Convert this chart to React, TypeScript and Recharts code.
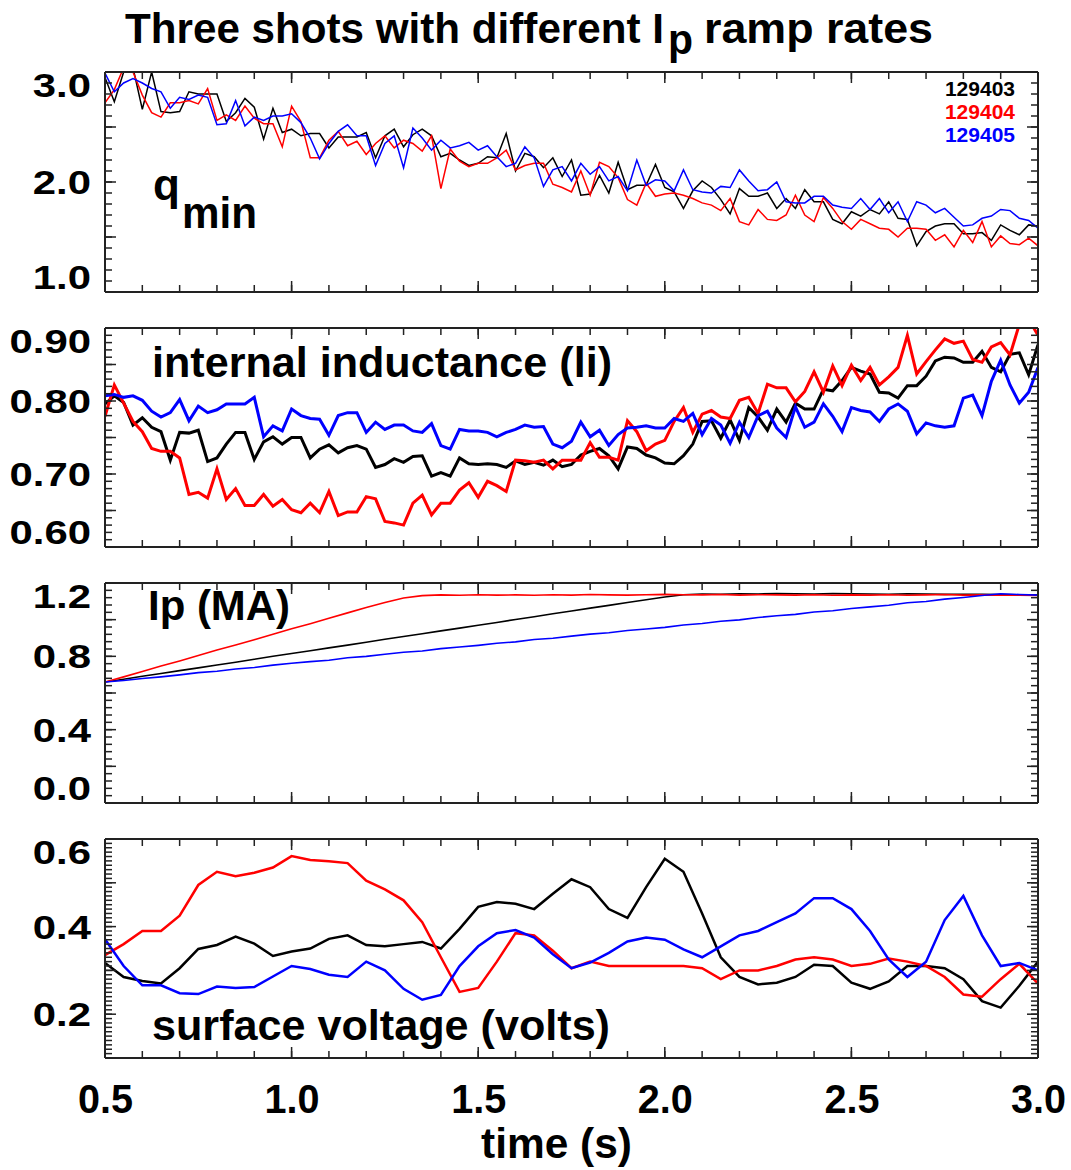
import React from 'react';
import { LineChart, Line, XAxis, YAxis } from 'recharts';

// time grids (s)
const TIME_FINE = [
  0.5, 0.525, 0.55, 0.575, 0.6, 0.625, 0.65, 0.675, 0.7, 0.725,
  0.75, 0.775, 0.8, 0.825, 0.85, 0.875, 0.9, 0.925, 0.95, 0.975,
  1.0, 1.025, 1.05, 1.075, 1.1, 1.125, 1.15, 1.175, 1.2, 1.225,
  1.25, 1.275, 1.3, 1.325, 1.35, 1.375, 1.4, 1.425, 1.45, 1.475,
  1.5, 1.525, 1.55, 1.575, 1.6, 1.625, 1.65, 1.675, 1.7, 1.725,
  1.75, 1.775, 1.8, 1.825, 1.85, 1.875, 1.9, 1.925, 1.95, 1.975,
  2.0, 2.025, 2.05, 2.075, 2.1, 2.125, 2.15, 2.175, 2.2, 2.225,
  2.25, 2.275, 2.3, 2.325, 2.35, 2.375, 2.4, 2.425, 2.45, 2.475,
  2.5, 2.525, 2.55, 2.575, 2.6, 2.625, 2.65, 2.675, 2.7, 2.725,
  2.75, 2.775, 2.8, 2.825, 2.85, 2.875, 2.9, 2.925, 2.95, 2.975,
  3.0,
];
const TIME_COARSE = [
  0.5, 0.55, 0.6, 0.65, 0.7, 0.75, 0.8, 0.85, 0.9, 0.95,
  1.0, 1.05, 1.1, 1.15, 1.2, 1.25, 1.3, 1.35, 1.4, 1.45,
  1.5, 1.55, 1.6, 1.65, 1.7, 1.75, 1.8, 1.85, 1.9, 1.95,
  2.0, 2.05, 2.1, 2.15, 2.2, 2.25, 2.3, 2.35, 2.4, 2.45,
  2.5, 2.55, 2.6, 2.65, 2.7, 2.75, 2.8, 2.85, 2.9, 2.95,
  3.0,
];

const SHOTS = ['129403', '129404', '129405'];
const COLORS = ['#000000', '#ff0000', '#0000ff'];

// q_min
const Q_BLACK = [
  2.95, 2.73, 3.0, 3.04, 2.66, 3.0, 2.64, 2.63, 2.64, 2.82,
  2.8, 2.8, 2.8, 2.55, 2.63, 2.76, 2.68, 2.39, 2.67, 2.45,
  2.48, 2.42, 2.44, 2.44, 2.31, 2.41, 2.41, 2.41, 2.45, 2.22,
  2.42, 2.48, 2.32, 2.43, 2.48, 2.42, 2.23, 2.26, 2.2, 2.15,
  2.17, 2.23, 2.22, 2.44, 2.1, 2.26, 2.23, 2.13, 2.22, 2.05,
  2.2, 1.88, 1.89, 2.06, 1.9, 2.18, 1.93, 1.97, 1.97, 2.16,
  1.95, 1.91, 1.76, 1.92, 2.01, 1.95, 1.84, 1.71, 1.94, 1.87,
  1.87, 1.9, 1.76, 1.85, 1.76, 1.93, 1.82, 1.82, 1.66, 1.62,
  1.73, 1.69, 1.75, 1.71, 1.82, 1.67, 1.66, 1.42, 1.55, 1.6,
  1.62, 1.62, 1.53, 1.53, 1.54, 1.47, 1.61, 1.56, 1.52, 1.61,
  1.6,
];
const Q_RED = [
  2.72, 2.84, 3.04, 3.0, 2.79, 2.63, 2.59, 2.72, 2.72, 2.74,
  2.71, 2.85, 2.56, 2.61, 2.56, 2.69, 2.58, 2.53, 2.53, 2.32,
  2.69, 2.55, 2.22, 2.22, 2.38, 2.46, 2.33, 2.37, 2.25, 2.35,
  2.42, 2.31, 2.38, 2.35, 2.28, 2.42, 1.94, 2.3, 2.19, 2.14,
  2.17, 2.17, 2.22, 2.29, 2.11, 2.15, 2.17, 2.17, 1.98, 1.95,
  1.91, 2.1, 1.88, 2.18, 2.14, 2.04, 1.84, 1.79, 1.99, 1.87,
  1.89, 1.9, 1.88, 1.85, 1.81, 1.79, 1.74, 1.85, 1.64, 1.61,
  1.75, 1.66, 1.65, 1.7, 1.88, 1.7, 1.64, 1.86, 1.76, 1.64,
  1.57, 1.66, 1.62, 1.58, 1.57, 1.5, 1.58, 1.58, 1.57, 1.47,
  1.52, 1.41, 1.56, 1.45, 1.64, 1.41, 1.51, 1.44, 1.43, 1.49,
  1.42,
];
const Q_BLUE = [
  2.99, 2.82, 2.9, 2.94, 2.9, 2.85, 2.82, 2.67, 2.77, 2.75,
  2.79, 2.77, 2.52, 2.53, 2.74, 2.51, 2.59, 2.56, 2.6, 2.6,
  2.62, 2.54, 2.4, 2.21, 2.35, 2.46, 2.52, 2.42, 2.42, 2.15,
  2.35, 2.42, 2.13, 2.49, 2.4, 2.29, 2.38, 2.31, 2.33, 2.36,
  2.29, 2.33, 2.23, 2.14, 2.17, 2.32, 2.22, 1.96, 2.11, 2.14,
  2.01, 2.17, 2.07, 2.14, 2.01, 2.05, 1.92, 2.2, 1.97, 2.02,
  2.01, 1.92, 2.11, 1.93, 1.91, 1.9, 1.96, 1.95, 2.11, 2.01,
  1.92, 1.93, 2.0, 1.82, 1.81, 1.81, 1.87, 1.87, 1.79, 1.77,
  1.76, 1.85, 1.75, 1.85, 1.72, 1.82, 1.64, 1.82, 1.79, 1.72,
  1.76, 1.68, 1.6, 1.61, 1.67, 1.69, 1.75, 1.74, 1.67, 1.65,
  1.58,
];

// internal inductance li
const LI_BLACK = [
  0.796, 0.807, 0.798, 0.767, 0.777, 0.764, 0.758, 0.719, 0.757, 0.756,
  0.76, 0.717, 0.722, 0.741, 0.757, 0.757, 0.72, 0.744, 0.751, 0.741,
  0.75, 0.75, 0.722, 0.734, 0.74, 0.729, 0.736, 0.739, 0.734, 0.709,
  0.713, 0.721, 0.716, 0.724, 0.725, 0.697, 0.702, 0.697, 0.722, 0.714,
  0.713, 0.714, 0.713, 0.709, 0.718, 0.713, 0.716, 0.712, 0.719, 0.71,
  0.713, 0.726, 0.731, 0.735, 0.725, 0.707, 0.737, 0.735, 0.726, 0.722,
  0.715, 0.714, 0.725, 0.741, 0.772, 0.773, 0.749, 0.774, 0.746, 0.791,
  0.778, 0.76, 0.789, 0.771, 0.797, 0.789, 0.789, 0.816, 0.814, 0.828,
  0.846, 0.841, 0.837, 0.812, 0.811, 0.804, 0.821, 0.821, 0.834, 0.855,
  0.86, 0.859, 0.853, 0.853, 0.868, 0.846, 0.84, 0.864, 0.866, 0.836,
  0.877,
];
const LI_RED = [
  0.779, 0.822, 0.797, 0.772, 0.758, 0.735, 0.731, 0.731, 0.722, 0.672,
  0.675, 0.667, 0.707, 0.665, 0.68, 0.657, 0.657, 0.672, 0.656, 0.665,
  0.651, 0.647, 0.66, 0.647, 0.676, 0.643, 0.648, 0.648, 0.669, 0.666,
  0.635, 0.633, 0.63, 0.66, 0.671, 0.644, 0.66, 0.66, 0.678, 0.688,
  0.668, 0.69, 0.684, 0.676, 0.719, 0.718, 0.716, 0.719, 0.707, 0.719,
  0.719, 0.719, 0.743, 0.723, 0.723, 0.719, 0.773, 0.758, 0.732, 0.741,
  0.746, 0.772, 0.791, 0.757, 0.782, 0.787, 0.778, 0.776, 0.801, 0.805,
  0.783, 0.823, 0.818, 0.818, 0.799, 0.813, 0.84, 0.812, 0.848, 0.821,
  0.849, 0.828, 0.846, 0.822, 0.833, 0.846, 0.89, 0.837, 0.854, 0.87,
  0.885, 0.879, 0.882, 0.857, 0.853, 0.874, 0.88, 0.863, 0.905, 0.912,
  0.89,
];
const LI_BLUE = [
  0.807, 0.809, 0.805, 0.807, 0.801, 0.786, 0.778, 0.784, 0.802, 0.773,
  0.793, 0.784, 0.788, 0.796, 0.796, 0.796, 0.805, 0.751, 0.766, 0.759,
  0.789, 0.78, 0.776, 0.775, 0.753, 0.78, 0.784, 0.784, 0.757, 0.771,
  0.761, 0.767, 0.767, 0.759, 0.757, 0.769, 0.739, 0.734, 0.761, 0.759,
  0.759, 0.757, 0.751, 0.757, 0.761, 0.767, 0.764, 0.765, 0.741, 0.736,
  0.745, 0.771, 0.751, 0.76, 0.739, 0.754, 0.763, 0.764, 0.766, 0.763,
  0.763, 0.776, 0.772, 0.783, 0.754, 0.776, 0.767, 0.742, 0.771, 0.75,
  0.78, 0.786, 0.763, 0.75, 0.792, 0.764, 0.771, 0.796, 0.779, 0.758,
  0.791, 0.787, 0.785, 0.772, 0.789, 0.796, 0.786, 0.755, 0.77, 0.766,
  0.764, 0.766, 0.804, 0.808, 0.78, 0.827, 0.856, 0.822, 0.797, 0.812,
  0.846,
];

// plasma current Ip (MA)
const IP_BLACK = [
  0.66, 0.675, 0.691, 0.706, 0.722, 0.737, 0.753, 0.768, 0.784, 0.8,
  0.815, 0.83, 0.846, 0.861, 0.877, 0.893, 0.908, 0.923, 0.939, 0.954,
  0.97, 0.985, 1.001, 1.016, 1.032, 1.047, 1.063, 1.078, 1.094, 1.109,
  1.124, 1.136, 1.14, 1.139, 1.141, 1.14, 1.142, 1.141, 1.14, 1.142,
  1.141, 1.14, 1.139, 1.141, 1.14, 1.138, 1.139, 1.138, 1.137, 1.136,
  1.136,
];
const IP_RED = [
  0.66, 0.688, 0.717, 0.747, 0.775, 0.804, 0.834, 0.862, 0.891, 0.921,
  0.95, 0.978, 1.008, 1.037, 1.066, 1.094, 1.118, 1.131, 1.135, 1.133,
  1.136, 1.134, 1.135, 1.133, 1.136, 1.134, 1.137, 1.135, 1.134, 1.136,
  1.138, 1.136, 1.135, 1.137, 1.134, 1.136, 1.135, 1.134, 1.136, 1.133,
  1.135, 1.134, 1.136, 1.133, 1.135, 1.137, 1.134, 1.135, 1.133, 1.134,
  1.132,
];
const IP_BLUE = [
  0.66, 0.668, 0.679, 0.688, 0.699, 0.711, 0.719, 0.731, 0.739, 0.752,
  0.762, 0.771, 0.779, 0.792, 0.8, 0.811, 0.822, 0.829, 0.842, 0.851,
  0.86, 0.871, 0.879, 0.892, 0.899, 0.91, 0.921, 0.929, 0.941, 0.949,
  0.958, 0.971, 0.979, 0.991, 0.999, 1.012, 1.021, 1.029, 1.042, 1.049,
  1.061, 1.07, 1.079, 1.092, 1.099, 1.112, 1.121, 1.132, 1.141, 1.137,
  1.134,
];

// surface voltage (V)
const V_BLACK = [
  0.317, 0.285, 0.276, 0.27, 0.305, 0.349, 0.358, 0.377, 0.361, 0.333,
  0.343, 0.35, 0.372, 0.38, 0.358, 0.355, 0.36, 0.365, 0.35, 0.395,
  0.445, 0.456, 0.452, 0.44, 0.475, 0.508, 0.49, 0.44, 0.42, 0.49,
  0.555, 0.525, 0.43, 0.33, 0.285, 0.268, 0.272, 0.285, 0.313, 0.31,
  0.272, 0.258, 0.275, 0.31, 0.31, 0.305, 0.28, 0.23, 0.215, 0.265,
  0.32,
];
const V_RED = [
  0.335, 0.36, 0.39, 0.39, 0.425, 0.495, 0.525, 0.515, 0.523, 0.535,
  0.561, 0.552, 0.549, 0.545, 0.505, 0.485, 0.46, 0.41, 0.33, 0.251,
  0.26, 0.32, 0.385, 0.38, 0.345, 0.305, 0.32, 0.31, 0.31, 0.31,
  0.31, 0.31, 0.305, 0.28, 0.3, 0.3, 0.31, 0.325, 0.33, 0.325,
  0.31, 0.315, 0.327, 0.32, 0.31, 0.285, 0.245, 0.24, 0.28, 0.315,
  0.27,
];
const V_BLUE = [
  0.371, 0.31, 0.266, 0.266, 0.248, 0.246, 0.263, 0.26, 0.262, 0.286,
  0.31, 0.303, 0.29, 0.285, 0.32, 0.3, 0.258, 0.233, 0.244, 0.31,
  0.355, 0.385, 0.392, 0.375, 0.337, 0.305, 0.318, 0.34, 0.366, 0.375,
  0.37, 0.348, 0.33, 0.355, 0.38, 0.39, 0.41, 0.43, 0.465, 0.465,
  0.44, 0.39, 0.325, 0.285, 0.32, 0.415, 0.47, 0.38, 0.31, 0.317,
  0.3,
];

// axes
const X_DOMAIN: [number, number] = [0.5, 3.0];
const X_LABELS = [0.5, 1.0, 1.5, 2.0, 2.5, 3.0];
const X_MINOR = [
  0.5, 0.6, 0.7, 0.8, 0.9, 1.0, 1.1, 1.2, 1.3, 1.4, 1.5, 1.6, 1.7,
  1.8, 1.9, 2.0, 2.1, 2.2, 2.3, 2.4, 2.5, 2.6, 2.7, 2.8, 2.9, 3.0,
];

const Q_LABELS = [1.0, 2.0, 3.0];
const Q_MAJOR = [1.0, 1.5, 2.0, 2.5, 3.0];
const LI_LABELS = [0.6, 0.7, 0.8, 0.9];
const LI_MAJOR = [0.6, 0.65, 0.7, 0.75, 0.8, 0.85, 0.9];
const IP_LABELS = [0.0, 0.4, 0.8, 1.2];
const IP_MAJOR = [0.0, 0.2, 0.4, 0.6, 0.8, 1.0, 1.2];
const V_LABELS = [0.2, 0.4, 0.6];
const V_MAJOR = [0.1, 0.2, 0.3, 0.4, 0.5, 0.6];

const minorTicks = (lo: number, hi: number, n: number) =>
  Array.from({ length: n + 1 }, (_, i) => +(lo + ((hi - lo) * i) / n).toFixed(4));

const FRAME = '#222222';
const FONT = '"Liberation Sans", Arial, Helvetica, sans-serif';

const rows3 = (t: number[], a: number[], b: number[], c: number[]) =>
  t.map((tt, i) => ({ t: tt, a: a[i], b: b[i], c: c[i] }));

const tickW = (s: string) => s.replace('.', '').length * 23.3 + 11.6;

const NoTick = () => <g />;

const makeYTick = (lo: number, hi: number, digits: number) => (props: any) => {
  const { x, y, payload } = props;
  const v = payload.value;
  const s = v.toFixed(digits);
  const dy = Math.abs(v - hi) < 1e-9 ? 13 : Math.abs(v - lo) < 1e-9 ? -15 : 0;
  return (
    <text x={x} y={y + dy + 12} textAnchor="end" fontFamily={FONT} fontWeight="bold"
      fontSize={33} fill="#000" textLength={tickW(s)} lengthAdjust="spacingAndGlyphs">
      {s}
    </text>
  );
};

const XTick = (props: any) => {
  const { x, y, payload } = props;
  const s = payload.value.toFixed(1);
  return (
    <text x={x - 27} y={y + 55} fontFamily={FONT} fontWeight="bold" fontSize={40}
      fill="#000" textLength={55} lengthAdjust="spacingAndGlyphs">
      {s}
    </text>
  );
};

interface PanelProps {
  plotTop: number;
  plotH: number;
  data: any[];
  domain: [number, number];
  labels: number[];
  major: number[];
  minor: number[];
  digits: number;
  strokeW: number;
  showX?: boolean;
}

const axisLineStyle = { stroke: FRAME, strokeWidth: 2 };
const tickLineStyle = { stroke: FRAME, strokeWidth: 1.5 };

function Panel({ plotTop, plotH, data, domain, labels, major, minor, digits, strokeW, showX }: PanelProps) {
  const bottomExtra = showX ? 70 : 0;
  const frameX = (id: string, orient: 'top' | 'bottom', ticks: number[], size: number, line: boolean) => (
    <XAxis key={id} xAxisId={id} dataKey="t" type="number" domain={X_DOMAIN} allowDataOverflow
      ticks={ticks} interval={0} orientation={orient} mirror height={1} tick={NoTick} tickSize={size}
      axisLine={line ? axisLineStyle : false} tickLine={tickLineStyle} />
  );
  const frameY = (id: string, orient: 'left' | 'right', ticks: number[], size: number, line: boolean) => (
    <YAxis key={id} yAxisId={id} type="number" domain={domain} allowDataOverflow
      ticks={ticks} interval={0} orientation={orient} mirror width={1} tick={NoTick} tickSize={size}
      axisLine={line ? axisLineStyle : false} tickLine={tickLineStyle} />
  );
  return (
    <div style={{ position: 'absolute', left: 0, top: plotTop - 10 }}>
      <LineChart width={1071} height={plotH + 20 + bottomExtra} data={data}
        margin={{ top: 10, right: 33, bottom: 10, left: 5 }}>
        {frameX('b', 'bottom', X_LABELS, 11, true)}
        {frameX('bm', 'bottom', X_MINOR, 6, false)}
        {frameX('t', 'top', X_LABELS, 11, true)}
        {frameX('tm', 'top', X_MINOR, 6, false)}
        {showX && (
          <XAxis xAxisId="lab" dataKey="t" type="number" domain={X_DOMAIN} allowDataOverflow
            ticks={X_LABELS} interval={0} orientation="bottom" height={bottomExtra} tickSize={0}
            tickMargin={0} tickLine={false} axisLine={false} tick={XTick} />
        )}
        <YAxis yAxisId="l" type="number" domain={domain} allowDataOverflow ticks={labels} interval={0}
          width={100} tickLine={false} axisLine={axisLineStyle} tickMargin={8}
          tick={makeYTick(domain[0], domain[1], digits)} />
        {frameY('lM', 'left', major, 11, false)}
        {frameY('lm', 'left', minor, 6, false)}
        {frameY('rM', 'right', major, 11, true)}
        {frameY('rm', 'right', minor, 6, false)}
        {['a', 'b', 'c'].map((k, i) => (
          <Line key={k} xAxisId="b" yAxisId="l" dataKey={k} type="linear" stroke={COLORS[i]}
            strokeWidth={strokeW} dot={false} isAnimationActive={false} />
        ))}
      </LineChart>
    </div>
  );
}

const txt = { fontFamily: FONT, fontWeight: 'bold' as const, fill: '#000' };

export default function App() {
  const qRows = rows3(TIME_FINE, Q_BLACK, Q_RED, Q_BLUE);
  const liRows = rows3(TIME_FINE, LI_BLACK, LI_RED, LI_BLUE);
  const ipRows = rows3(TIME_COARSE, IP_BLACK, IP_RED, IP_BLUE);
  const vRows = rows3(TIME_COARSE, V_BLACK, V_RED, V_BLUE);
  return (
    <div style={{ position: 'absolute', left: 0, top: 0, width: 1071, height: 1170, background: '#fff' }}>
      <Panel plotTop={72} plotH={220} data={qRows} domain={[1.0, 3.0]} labels={Q_LABELS}
        major={Q_MAJOR} minor={minorTicks(1, 3, 20)} digits={1} strokeW={1.5} />
      <Panel plotTop={328} plotH={219} data={liRows} domain={[0.6, 0.9]} labels={LI_LABELS}
        major={LI_MAJOR} minor={minorTicks(0.6, 0.9, 30)} digits={2} strokeW={3} />
      <Panel plotTop={583} plotH={220} data={ipRows} domain={[0.0, 1.2]} labels={IP_LABELS}
        major={IP_MAJOR} minor={minorTicks(0, 1.2, 30)} digits={1} strokeW={1.6} />
      <Panel plotTop={839} plotH={219} data={vRows} domain={[0.1, 0.6]} labels={V_LABELS}
        major={V_MAJOR} minor={minorTicks(0.1, 0.6, 50)} digits={1} strokeW={2.5} showX />
      <svg width={1071} height={1170} style={{ position: 'absolute', left: 0, top: 0, pointerEvents: 'none' }}>
        <text x={125} y={43} fontSize={42} textLength={539} lengthAdjust="spacingAndGlyphs" {...txt}>
          Three shots with different I
        </text>
        <text x={668} y={54} fontSize={42} textLength={25} lengthAdjust="spacingAndGlyphs" {...txt}>p</text>
        <text x={704} y={43} fontSize={42} textLength={229} lengthAdjust="spacingAndGlyphs" {...txt}>
          ramp rates
        </text>
        <text x={153} y={200} fontSize={44} {...txt}>q</text>
        <text x={182} y={228} fontSize={44} textLength={75} lengthAdjust="spacingAndGlyphs" {...txt}>min</text>
        <text x={152} y={377} fontSize={43} textLength={460} lengthAdjust="spacingAndGlyphs" {...txt}>
          internal inductance (li)
        </text>
        <text x={148} y={620} fontSize={42} textLength={142} lengthAdjust="spacingAndGlyphs" {...txt}>
          Ip (MA)
        </text>
        <text x={152} y={1040} fontSize={43} textLength={458} lengthAdjust="spacingAndGlyphs" {...txt}>
          surface voltage (volts)
        </text>
        <text x={481} y={1158} fontSize={43} textLength={151} lengthAdjust="spacingAndGlyphs" {...txt}>
          time (s)
        </text>
        {SHOTS.map((s, i) => (
          <text key={s} x={1015} y={96 + i * 23} fontSize={21} textAnchor="end" {...txt} fill={COLORS[i]}>
            {s}
          </text>
        ))}
      </svg>
    </div>
  );
}
